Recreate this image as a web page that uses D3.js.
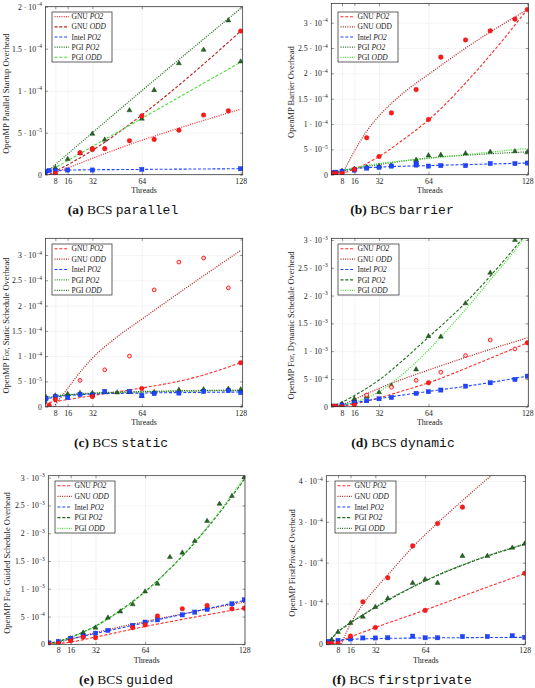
<!DOCTYPE html>
<html><head><meta charset="utf-8">
<script src="https://cdn.jsdelivr.net/npm/d3@7"></script>
<style>body{margin:0;background:#fff}svg{display:block}</style>
</head><body>
<svg id="c" width="535" height="688"></svg>
<script>
// ---------- shared ----------
const xTicks = [8,16,32,64,128];
const legendCompilers = ["GNU","GNU","Intel","PGI","PGI"];
const legendVariants = ["PO2","ODD","PO2","PO2","ODD"];

// ---------- (a) parallel ----------
const yTicksA = [0,5e-5,1e-4,1.5e-4,2e-4];
const yLabelsA = ["0","5·10^-5","1·10^-4","1.5·10^-4","2·10^-4"];
const aGnuPO2Fit = [[4,0],[16,8e-6],[32,1.95e-5],[64,4.1e-5],[96,6.0e-5],[128,7.8e-5]];
const aGnuODDFit = [[4,0],[32,2.9e-5],[64,7.1e-5],[96,1.19e-4],[128,1.71e-4]];
const aIntelFit = [[1,3.6e-6],[16,5.5e-6],[64,6.3e-6],[128,7.1e-6]];
const aPgiPO2Fit = [[1,1e-6],[64,1.0e-4],[128,1.98e-4]];
const aPgiODDFit = [[1,1e-6],[64,6.7e-5],[128,1.34e-4]];
const aGnuPts = [[8,1.6e-6],[24,2.6e-5],[32,3.0e-5],[32,3.1e-5],[40,3.1e-5],[56,4.05e-5],[64,7.0e-5],[72,4.2e-5],[88,5.3e-5],[104,7.1e-5],[120,7.6e-5],[128,1.71e-4]];
const aIntelPts = [[1,2.4e-6],[2,4e-6],[4,5e-6],[8,4.8e-6],[16,5.6e-6],[32,5.6e-6],[64,6.3e-6],[128,7.1e-6]];
const aPgiPts = [[1,2e-6],[8,7.5e-6],[16,1.8e-5],[24,2.5e-5],[32,4.8e-5],[40,4.1e-5],[56,7.6e-5],[64,6.6e-5],[72,1.0e-4],[88,1.32e-4],[104,1.48e-4],[120,1.83e-4],[128,1.34e-4]];

// ---------- (b) barrier ----------
const yTicksB = [0,5e-5,1e-4,1.5e-4,2e-4,2.5e-4,3e-4];
const yLabelsB = ["0","5·10^-5","1·10^-4","1.5·10^-4","2·10^-4","2.5·10^-4","3·10^-4"];
const bGnuPO2Fit = [[1,0],[8,3e-6],[16,1.1e-5],[32,3.6e-5],[48,7e-5],[64,1.08e-4],[96,2.08e-4],[128,3.26e-4]];
const bGnuODDFit = [[8,0],[16,4.6e-5],[24,8.6e-5],[32,1.16e-4],[48,1.62e-4],[64,1.98e-4],[96,2.66e-4],[128,3.26e-4]];
const bIntelFit = [[1,3e-6],[8,8e-6],[16,1.2e-5],[32,1.5e-5],[64,1.8e-5],[96,2.05e-5],[128,2.3e-5]];
const bPgiPO2Fit = [[1,2e-6],[16,1.2e-5],[32,2.0e-5],[64,3.3e-5],[96,4.0e-5],[128,4.5e-5]];
const bPgiODDFit = [[8,9e-6],[32,2.2e-5],[64,3.2e-5],[96,4.2e-5],[128,5.2e-5]];
const bGnuPts = [[1,2.6e-6],[2,2e-6],[4,2.5e-6],[8,2.6e-6],[16,1.05e-5],[24,7.3e-5],[32,3.6e-5],[40,1.22e-4],[56,1.68e-4],[64,1.09e-4],[72,2.32e-4],[88,2.66e-4],[104,2.84e-4],[120,3.07e-4],[128,3.26e-4]];
const bIntelPts = [[1,2.6e-6],[2,4e-6],[4,5e-6],[8,6.6e-6],[16,9e-6],[24,1.3e-5],[32,1.45e-5],[40,1.7e-5],[56,2.2e-5],[56,1.9e-5],[64,1.7e-5],[72,1.8e-5],[88,1.8e-5],[104,2.2e-5],[120,2.2e-5],[128,2.3e-5]];
const bPgiPts = [[1,2e-6],[8,6.6e-6],[16,1.05e-5],[24,1.4e-5],[32,1.6e-5],[40,1.7e-5],[56,2.8e-5],[64,3.7e-5],[72,3.8e-5],[88,4.1e-5],[104,4.4e-5],[120,4.5e-5],[128,4.3e-5]];

// ---------- (c) static ----------
const yTicksC = yTicksB;
const yLabelsC = yLabelsB;
const cGnuPO2Fit = [[1,7e-6],[16,1.4e-5],[32,2.2e-5],[64,3.7e-5],[96,5.6e-5],[128,8.7e-5]];
const cGnuODDFit = [[7,0],[16,3.6e-5],[24,6.8e-5],[32,9.6e-5],[48,1.38e-4],[64,1.73e-4],[96,2.42e-4],[128,3.09e-4]];
const cIntelFit = [[1,1.5e-5],[8,1.9e-5],[16,2.2e-5],[32,2.5e-5],[64,2.7e-5],[128,2.9e-5]];
const cPgiPO2Fit = [[1,1.8e-5],[16,2.3e-5],[32,2.6e-5],[64,2.9e-5],[128,3.2e-5]];
const cPgiODDFit = [[8,2.2e-5],[32,2.7e-5],[64,3.0e-5],[128,3.3e-5]];
const cGnuPts = [[4,3e-6],[8,1.4e-5],[32,2.0e-5],[64,3.6e-5],[128,8.7e-5]];
const cGnuRingPts = [[24,5.2e-5],[40,7.3e-5],[56,1.0e-4],[72,2.31e-4],[88,2.86e-4],[104,2.94e-4],[120,2.35e-4]];
const cIntelPts = [[1,1.0e-5],[2,1.6e-5],[8,2.0e-5],[16,1.8e-5],[24,2.4e-5],[32,2.3e-5],[40,3.0e-5],[56,3.0e-5],[64,2.2e-5],[72,2.6e-5],[88,2.7e-5],[104,3.0e-5],[120,3.2e-5],[128,2.8e-5]];
const cPgiPts = [[1,1.2e-5],[2,1.8e-5],[8,2.1e-5],[16,2.4e-5],[24,2.6e-5],[32,2.6e-5],[40,2.8e-5],[48,2.7e-5],[56,2.8e-5],[64,2.0e-5],[72,2.8e-5],[88,3.2e-5],[104,3.3e-5],[120,3.4e-5],[128,3.3e-5]];

// ---------- (d) dynamic ----------
const yTicksD = [0,5e-4,1e-3,1.5e-3,2e-3,2.5e-3,3e-3];
const yLabelsD = ["0","5·10^-4","1·10^-3","1.5·10^-3","2·10^-3","2.5·10^-3","3·10^-3"];
const dGnuPO2Fit = [[1,0],[8,1e-5],[16,5e-5],[32,1.6e-4],[48,2.9e-4],[64,4.3e-4],[96,7.8e-4],[128,1.15e-3]];
const dGnuODDFit = [[6,0],[16,1.3e-4],[32,3.3e-4],[64,6.6e-4],[96,9.6e-4],[128,1.24e-3]];
const dIntelFit = [[1,0],[8,3e-5],[16,7e-5],[32,1.45e-4],[64,2.75e-4],[96,4.0e-4],[128,5.5e-4]];
const dPgiPO2Fit = [[1,0],[8,8e-5],[16,2.0e-4],[32,4.8e-4],[48,8.5e-4],[64,1.25e-3],[88,1.87e-3],[104,2.35e-3],[124,3.0e-3],[128,3.14e-3]];
const dPgiODDFit = [[1,0],[16,8e-5],[32,2.7e-4],[48,6.0e-4],[64,1.02e-3],[88,1.75e-3],[104,2.28e-3],[125,3.0e-3],[128,3.12e-3]];
const dGnuPts = [[1,0],[2,5e-6],[4,5e-6],[8,0],[16,3e-5],[64,4.3e-4],[128,1.15e-3]];
const dGnuRingPts = [[24,2.1e-4],[40,3.5e-4],[56,4.75e-4],[72,6.2e-4],[88,9.2e-4],[104,1.2e-3],[120,1.04e-3]];
const dIntelPts = [[1,5e-6],[2,1e-5],[4,1e-5],[8,3e-5],[16,7e-5],[24,1.07e-4],[32,1.43e-4],[40,1.66e-4],[56,2.4e-4],[64,2.7e-4],[72,3.0e-4],[88,3.7e-4],[104,4.3e-4],[120,4.9e-4],[128,5.5e-4]];
const dPgiPts = [[1,5e-6],[8,4e-5],[16,1.07e-4],[16,1.3e-4],[24,1.8e-4],[32,2.5e-4],[40,3.7e-4],[56,6.6e-4],[64,1.26e-3],[72,1.25e-3],[88,1.85e-3],[104,2.4e-3],[120,2.99e-3]];

// ---------- (e) guided ----------
const yTicksE = yTicksD;
const yLabelsE = yLabelsD;
const eGnuPO2Fit = [[1,0],[16,4e-5],[32,1.3e-4],[64,3.2e-4],[96,4.9e-4],[128,6.5e-4]];
const eGnuODDFit = [[1,0],[16,9e-5],[32,2.1e-4],[64,4.1e-4],[96,5.9e-4],[128,7.6e-4]];
const eIntelFit = [[1,1.5e-5],[16,1.0e-4],[32,1.95e-4],[64,3.9e-4],[96,5.9e-4],[128,7.9e-4]];
const ePgiPO2Fit = [[1,0],[8,5e-5],[16,1.3e-4],[32,3.3e-4],[48,6.1e-4],[64,9.5e-4],[80,1.36e-3],[96,1.83e-3],[112,2.37e-3],[128,2.97e-3]];
const ePgiODDFit = [[1,0],[8,4e-5],[16,1.2e-4],[32,3.2e-4],[48,6.0e-4],[64,9.4e-4],[80,1.36e-3],[96,1.84e-3],[112,2.39e-3],[128,3.0e-3]];
const eGnuPts = [[1,3e-6],[2,5e-6],[8,2e-5],[16,6.6e-5],[24,1.3e-4],[32,1.2e-4],[56,3.0e-4],[64,3.5e-4],[72,5.1e-4],[88,6.4e-4],[104,7.0e-4],[120,6.4e-4],[128,6.5e-4]];
const eIntelPts = [[1,1.8e-5],[2,2.5e-5],[8,4.8e-5],[16,1.08e-4],[24,1.5e-4],[32,2.0e-4],[40,2.5e-4],[56,3.4e-4],[64,4.0e-4],[72,4.4e-4],[88,5.3e-4],[96,5.8e-4],[104,6.3e-4],[120,7.3e-4],[128,8.0e-4]];
const ePgiPts = [[1,1e-5],[8,3.6e-5],[16,9.6e-5],[24,2.0e-4],[32,2.9e-4],[40,4.7e-4],[48,5.8e-4],[56,7.1e-4],[64,9.4e-4],[72,1.08e-3],[80,1.56e-3],[88,1.64e-3],[96,1.85e-3],[104,2.21e-3],[112,2.52e-3],[120,2.66e-3],[128,3.0e-3]];

// ---------- (f) firstprivate ----------
const yTicksF = [0,1e-4,2e-4,3e-4,4e-4];
const yLabelsF = ["0","1·10^-4","2·10^-4","3·10^-4","4·10^-4"];
const fGnuPO2Fit = [[4,0],[16,1.8e-5],[32,4.1e-5],[64,8.4e-5],[96,1.29e-4],[128,1.73e-4]];
const fGnuODDFit = [[10,0],[16,5.0e-5],[24,9.8e-5],[32,1.36e-4],[40,1.7e-4],[56,2.38e-4],[72,2.97e-4],[88,3.52e-4],[104,4.05e-4],[112,4.3e-4]];
const fIntelFit = [[1,6e-6],[8,1.0e-5],[16,1.2e-5],[32,1.4e-5],[64,1.55e-5],[128,1.7e-5]];
const fPgiPO2Fit = [[1,0],[8,3e-5],[16,5.2e-5],[32,9e-5],[64,1.55e-4],[96,2.05e-4],[128,2.45e-4]];
const fPgiODDFit = [[1,2e-6],[8,3.1e-5],[16,5.3e-5],[32,9.1e-5],[64,1.56e-4],[96,2.06e-4],[128,2.46e-4]];
const fGnuPts = [[1,1e-6],[2,2e-6],[4,2e-6],[8,2.4e-6],[16,2e-5],[24,1.04e-4],[32,4.1e-5],[40,1.63e-4],[56,2.41e-4],[64,8.3e-5],[72,2.96e-4],[88,3.36e-4],[128,1.74e-4]];
const fIntelPts = [[1,5e-6],[2,7e-6],[8,9.8e-6],[16,1.3e-5],[24,1.55e-5],[32,1.55e-5],[40,1.6e-5],[56,2e-5],[64,1.6e-5],[72,1.6e-5],[88,1.9e-5],[104,1.9e-5],[120,2.1e-5],[128,1.7e-5]];
const fPgiPts = [[1,2e-6],[4,1e-5],[8,2.9e-5],[16,5.1e-5],[24,6.6e-5],[32,9e-5],[40,1.11e-4],[56,1.49e-4],[64,1.58e-4],[72,1.49e-4],[88,2.15e-4],[104,2.15e-4],[120,2.35e-4],[128,2.45e-4]];

// ---------- styling ----------
const COL = {red:"#ff2a2a", darkred:"#b3201f", blue:"#1f45ff", dgreen:"#1d6a1d", mgreen:"#2f8f2f", lgreen:"#45e030"};
const DASH = {dash:"3,1.8", dot:"1,1.3"};
const SERIF = "'Liberation Serif','DejaVu Serif',serif";
const MONO = "'Liberation Mono','DejaVu Sans Mono',monospace";

const panels = [
 {id:'a', yTicks:yTicksA, yLabels:yLabelsA, yTitle:"OpenMP Parallel Startup Overhead", cap:["(a)","BCS","parallel"],
  fits:[aGnuPO2Fit,aGnuODDFit,aIntelFit,aPgiPO2Fit,aPgiODDFit],
  styles:[['red','dot'],['darkred','dash'],['blue','dash'],['dgreen','dot'],['lgreen','dash']],
  gnu:aGnuPts, ring:[], intel:aIntelPts, pgi:aPgiPts,
  f:{l:45.5,r:242.7,t:6.7,b:174.7}, x8:55.3, x128:240.7, yTopPx:6.7,
  leg:{x:52,y:12,w:60,h:50}, ytx:6, capX:123, capY:214, oddRoman:false},
 {id:'b', yTicks:yTicksB, yLabels:yLabelsB, yTitle:"OpenMP Barrier Overhead", cap:["(b)","BCS","barrier"],
  fits:[bGnuPO2Fit,bGnuODDFit,bIntelFit,bPgiPO2Fit,bPgiODDFit],
  styles:[['red','dash'],['darkred','dot'],['blue','dash'],['dgreen','dot'],['lgreen','dot']],
  gnu:bGnuPts, ring:[], intel:bIntelPts, pgi:bPgiPts,
  f:{l:331.3,r:528.5,t:3.5,b:174.7}, x8:342, x128:527.3, yTopPx:22.7,
  leg:{x:338,y:12,w:60,h:50}, ytx:291, capX:402, capY:214, oddRoman:true},
 {id:'c', yTicks:yTicksC, yLabels:yLabelsC, yTitle:"OpenMP For, Static Schedule Overhead", cap:["(c)","BCS","static"],
  fits:[cGnuPO2Fit,cGnuODDFit,cIntelFit,cPgiPO2Fit,cPgiODDFit],
  styles:[['red','dash'],['darkred','dot'],['blue','dash'],['mgreen','dot'],['dgreen','dot']],
  gnu:cGnuPts, ring:cGnuRingPts, intel:cIntelPts, pgi:cPgiPts,
  f:{l:45.5,r:242.7,t:238.3,b:406.7}, x8:55.3, x128:240.7, yTopPx:255,
  leg:{x:52,y:244,w:60,h:51}, ytx:6, capX:121, capY:447, oddRoman:false},
 {id:'d', yTicks:yTicksD, yLabels:yLabelsD, yTitle:"OpenMP For, Dynamic Schedule Overhead", cap:["(d)","BCS","dynamic"],
  fits:[dGnuPO2Fit,dGnuODDFit,dIntelFit,dPgiPO2Fit,dPgiODDFit],
  styles:[['red','dash'],['darkred','dot'],['blue','dash'],['dgreen','dash'],['lgreen','dot']],
  gnu:dGnuPts, ring:dGnuRingPts, intel:dIntelPts, pgi:dPgiPts,
  f:{l:331.3,r:528.3,t:238.3,b:406.7}, x8:342, x128:527.3, yTopPx:240,
  leg:{x:338,y:244,w:61,h:51}, ytx:291, capX:403, capY:447, oddRoman:false},
 {id:'e', yTicks:yTicksE, yLabels:yLabelsE, yTitle:"OpenMP For, Guided Schedule Overhead", cap:["(e)","BCS","guided"],
  fits:[eGnuPO2Fit,eGnuODDFit,eIntelFit,ePgiPO2Fit,ePgiODDFit],
  styles:[['red','dash'],['darkred','dot'],['blue','dash'],['dgreen','dash'],['lgreen','dot']],
  gnu:eGnuPts, ring:[], intel:eIntelPts, pgi:ePgiPts,
  f:{l:48.3,r:245,t:475.7,b:644.3}, x8:58.3, x128:244.3, yTopPx:477.7,
  leg:{x:55,y:481,w:60,h:52}, ytx:7, capX:126, capY:684, oddRoman:false},
 {id:'f', yTicks:yTicksF, yLabels:yLabelsF, yTitle:"OpenMP FirstPrivate Overhead", cap:["(f)","BCS","firstprivate"],
  fits:[fGnuPO2Fit,fGnuODDFit,fIntelFit,fPgiPO2Fit,fPgiODDFit],
  styles:[['red','dash'],['darkred','dot'],['blue','dash'],['dgreen','dash'],['dgreen','dot']],
  gnu:fGnuPts, ring:[], intel:fIntelPts, pgi:fPgiPts,
  f:{l:326.3,r:525.3,t:475.7,b:644.3}, x8:338, x128:524.7, yTopPx:481,
  leg:{x:335,y:481,w:61,h:52}, ytx:292, capX:402, capY:684, oddRoman:false}
];

const svg = d3.select('#c');
const defs = svg.append('defs');

function sciLabel(textSel, lab){
  textSel.text(null);
  const parts = lab.split('^');
  if (parts.length === 1){ textSel.append('tspan').text(parts[0]); return; }
  textSel.append('tspan').text(parts[0].replace('·',' · '));
  textSel.append('tspan').attr('dy', -3.3).attr('font-size', 5.5).text(parts[1].replace('-','−'));
}

function drawPanel(p){
  const f = p.f;
  const g = svg.append('g');
  const x = d3.scaleLinear().domain([8,128]).range([p.x8, p.x128]);
  const yMax = p.yTicks[p.yTicks.length-1];
  const y = d3.scaleLinear().domain([0,yMax]).range([f.b, p.yTopPx]);
  const H = f.b - f.t, W = f.r - f.l;

  defs.append('clipPath').attr('id','clip'+p.id).append('rect')
    .attr('x',f.l).attr('y',f.t).attr('width',W).attr('height',H);

  // grid + labels via axes
  const gx = g.append('g').attr('transform',`translate(0,${f.b})`)
    .call(d3.axisBottom(x).tickValues(xTicks).tickSize(-H).tickPadding(3.3));
  gx.select('.domain').remove();
  gx.selectAll('line').attr('stroke','#c8c8c8').attr('stroke-width',0.5).attr('stroke-dasharray','0.8,1.2');
  gx.selectAll('text').attr('font-family',SERIF).attr('font-size',7.8).attr('fill','#222');

  const gy = g.append('g').attr('transform',`translate(${f.l},0)`)
    .call(d3.axisLeft(y).tickValues(p.yTicks).tickSize(-W).tickPadding(3.5));
  gy.select('.domain').remove();
  gy.selectAll('line').attr('stroke','#c8c8c8').attr('stroke-width',0.5).attr('stroke-dasharray','0.8,1.2');
  gy.selectAll('text').attr('font-family',SERIF).attr('font-size',7.8).attr('fill','#222')
    .each(function(d,i){ sciLabel(d3.select(this), p.yLabels[i]); });

  // inner tick marks
  const tk = (axis, tr) => { const a = g.append('g').attr('transform',tr).call(axis); a.select('.domain').remove(); a.selectAll('text').remove(); a.selectAll('line').attr('stroke','#333').attr('stroke-width',0.5); };
  tk(d3.axisBottom(x).tickValues(xTicks).tickSize(-2.5), `translate(0,${f.b})`);
  tk(d3.axisTop(x).tickValues(xTicks).tickSize(-2.5), `translate(0,${f.t})`);
  tk(d3.axisLeft(y).tickValues(p.yTicks).tickSize(-2.5), `translate(${f.l},0)`);
  tk(d3.axisRight(y).tickValues(p.yTicks).tickSize(-2.5), `translate(${f.r},0)`);

  // fit lines
  const line = d3.line().x(d=>x(d[0])).y(d=>y(d[1])).curve(d3.curveMonotoneX);
  const plot = g.append('g').attr('clip-path',`url(#clip${p.id})`);
  p.fits.forEach((fit,i)=>{
    const [c,s] = p.styles[i];
    plot.append('path').attr('d', line(fit)).attr('fill','none')
      .attr('stroke', COL[c]).attr('stroke-width', s==='dot'?1.25:1.1)
      .attr('stroke-dasharray', DASH[s]);
  });

  // markers
  plot.selectAll('.pg').data(p.pgi).join('path')
    .attr('transform', d=>`translate(${x(d[0])},${y(d[1])-0.5})`)
    .attr('d', d3.symbol(d3.symbolTriangle, 11)())
    .attr('fill','#256625').attr('stroke','#0b2f0b').attr('stroke-width',0.4);
  plot.selectAll('.it').data(p.intel).join('rect')
    .attr('x', d=>x(d[0])-2.1).attr('y', d=>y(d[1])-2.1).attr('width',4.2).attr('height',4.2)
    .attr('fill','#1f45ff').attr('stroke','#0a2ad0').attr('stroke-width',0.4);
  plot.selectAll('.gn').data(p.gnu).join('circle')
    .attr('cx', d=>x(d[0])).attr('cy', d=>y(d[1])).attr('r',2.3)
    .attr('fill','#ff1a1a').attr('stroke','#d00000').attr('stroke-width',0.4);
  plot.selectAll('.gr').data(p.ring).join('circle')
    .attr('cx', d=>x(d[0])).attr('cy', d=>y(d[1])).attr('r',1.9)
    .attr('fill','#ffd8d8').attr('stroke','#ff2020').attr('stroke-width',1);

  // frame
  g.append('rect').attr('x',f.l).attr('y',f.t).attr('width',W).attr('height',H)
    .attr('fill','none').attr('stroke','#222').attr('stroke-width',0.7);

  // legend
  const L = p.leg;
  const lg = g.append('g');
  lg.append('rect').attr('x',L.x).attr('y',L.y).attr('width',L.w).attr('height',L.h)
    .attr('fill','#fff').attr('stroke','#222').attr('stroke-width',0.7);
  legendCompilers.forEach((comp,i)=>{
    const yy = L.y + 4.7 + i*(L.h-9.4)/4;
    const [c,s] = p.styles[i];
    lg.append('line').attr('x1',L.x+2.5).attr('x2',L.x+17).attr('y1',yy).attr('y2',yy)
      .attr('stroke',COL[c]).attr('stroke-width', s==='dot'?1.25:1.1).attr('stroke-dasharray',DASH[s]);
    const t = lg.append('text').attr('x',L.x+19.5).attr('y',yy+2.6)
      .attr('font-family',SERIF).attr('font-size',7.5).attr('fill','#222');
    t.append('tspan').text(comp+' ');
    const roman = p.oddRoman && i===1;
    t.append('tspan').attr('font-style', roman?'normal':'italic').text(legendVariants[i]);
  });

  // axis titles
  g.append('text').attr('x',(f.l+f.r)/2).attr('y',f.b+18.5).attr('text-anchor','middle')
    .attr('font-family',SERIF).attr('font-size',8).attr('fill','#222').text('Threads');
  g.append('text').attr('transform',`translate(${p.ytx+2.8},${(f.t+f.b)/2+3}) rotate(-90)`)
    .attr('text-anchor','middle').attr('font-family',SERIF).attr('font-size',8.5).attr('fill','#222').text(p.yTitle);

  // caption
  const cap = g.append('text').attr('x',p.capX).attr('y',p.capY).attr('text-anchor','middle')
    .attr('font-family',SERIF).attr('font-size',13.5).attr('fill','#111');
  cap.append('tspan').attr('font-family',SERIF).attr('font-weight','bold').text(p.cap[0]);
  cap.append('tspan').attr('font-family',SERIF).text(' '+p.cap[1]+' ');
  cap.append('tspan').attr('font-family',MONO).attr('font-size',13).text(p.cap[2]);
}

panels.forEach(drawPanel);
</script>
</body></html>
